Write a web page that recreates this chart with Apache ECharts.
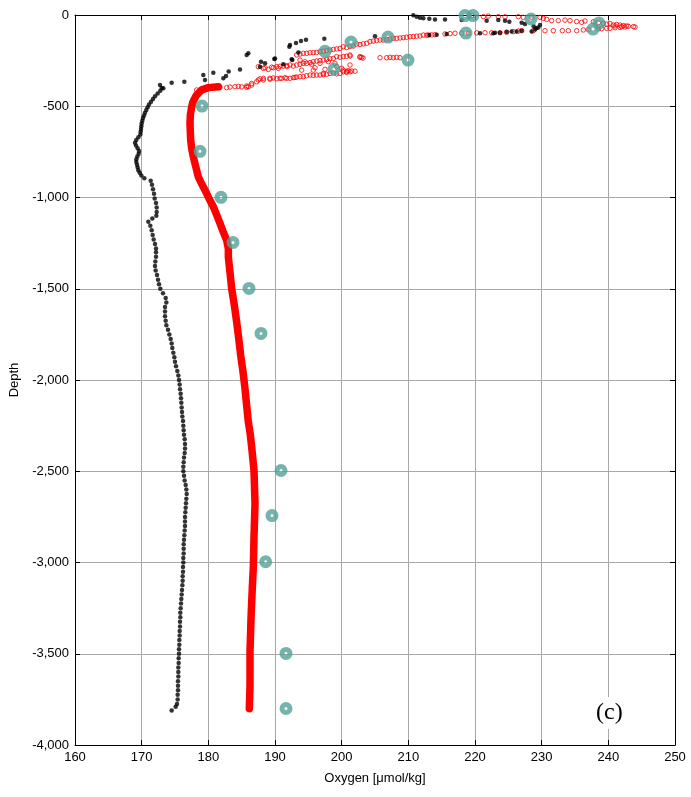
<!DOCTYPE html>
<html><head><meta charset="utf-8">
<script src="https://cdn.jsdelivr.net/npm/echarts@6/dist/echarts.min.js"></script>
<style>html,body{margin:0;padding:0;background:#fff}#c{width:691px;height:797px}</style>
</head><body><div id="c"></div>
<script>
// x ticks / y ticks
const xTicks = [160,170,180,190,200,210,220,230,240,250];
const yTicks = [0,-500,-1000,-1500,-2000,-2500,-3000,-3500,-4000];

// Black profile: upper (near-surface) scattered dots [oxygen, depth]
const blackUpper = [
[210.75,-2],[211.25,-9],[211.75,-15],[212.25,-18],[213.15,-20],[214.0,-24],[215.5,-24],[218.0,-27],[221.75,-31],[223.5,-27],[224.5,-31],[225.15,-37],[227.0,-42],[227.5,-49],[229.75,-55],[228.8,-62],[229.5,-68],[229.2,-73],[229.0,-79],[228.5,-91],[227.0,-86],[226.25,-91],[225.5,-91],[224.75,-93],[223.75,-97],[223.0,-97],[222.75,-100],[220.75,-100],[215.75,-104],[214.25,-108],[213.15,-110],[205.0,-117],[197.4,-130],[194.65,-135],[193.9,-143],[193.15,-153],[192.25,-164],[192.15,-174],[193.5,-205],[186.0,-210],[185.75,-219],[192.6,-247],[192.5,-243],[190.0,-238],[189.9,-241],[187.9,-256],[188.5,-265],[191.25,-270],[187.75,-283],[184.75,-298],[183.05,-309],[180.75,-316],[179.25,-329],[182.65,-334],[182.25,-347],[179.5,-356],[176.4,-366],[174.5,-371],[172.75,-384],[173.25,-402]
];
// Black profile: deep dots [oxygen, depth]
const blackDeep = [
[173.0,-400],[172.8,-415],[172.4,-430],[172.0,-445],[171.7,-460],[171.4,-475],[171.1,-490],[170.9,-505],[170.7,-520],[170.5,-535],[170.35,-550],[170.2,-565],[170.1,-580],[170.0,-595],[169.95,-610],[169.9,-625],[169.85,-640],[169.8,-655],[169.5,-670],[169.2,-685],[169.0,-700],[169.15,-715],[169.4,-730],[169.6,-745],[169.55,-760],[169.35,-775],[169.2,-790],[169.2,-805],[169.3,-820],[169.4,-835],[169.5,-850],[169.7,-865],[169.95,-880],[170.4,-895],[171.35,-908],[171.55,-930],[171.7,-955],[171.85,-980],[171.95,-1005],[172.15,-1030],[172.25,-1055],[172.25,-1080],[172.2,-1100],[171.6,-1115],[171.0,-1133],[171.3,-1155],[171.5,-1180],[171.65,-1205],[171.8,-1230],[172.0,-1255],[172.15,-1280],
[172.15,-1300],[172.15,-1325],[172.05,-1350],[172.0,-1375],[172.1,-1400],[172.3,-1425],[172.45,-1450],[172.6,-1475],[172.8,-1500],[173.2,-1525],[173.6,-1550],[173.7,-1575],[173.5,-1600],[173.5,-1625],[173.5,-1650],[173.6,-1675],[173.7,-1700],[173.95,-1725],[174.15,-1750],[174.35,-1775],[174.5,-1800],[174.6,-1825],[174.75,-1850],[174.9,-1875],[175.0,-1900],[175.15,-1925],[175.35,-1950],[175.5,-1975],[175.6,-2000],[175.7,-2025],[175.75,-2050],[175.85,-2075],[175.9,-2100],[175.95,-2125],[176.0,-2150],[176.05,-2175],[176.1,-2200],[176.2,-2225],[176.25,-2250],[176.3,-2275],[176.35,-2300],[176.45,-2325],[176.5,-2350],[176.5,-2375],[176.45,-2400],[176.35,-2425],[176.3,-2450],[176.25,-2475],[176.25,-2500],[176.35,-2525],[176.45,-2550],[176.6,-2575],[176.7,-2600],[176.75,-2625],[176.7,-2650],[176.65,-2675],[176.6,-2700],[176.55,-2725],[176.5,-2750],[176.5,-2775],[176.5,-2800],[176.45,-2825],[176.4,-2850],[176.35,-2875],[176.3,-2900],[176.3,-2925],[176.3,-2950],[176.25,-2975],[176.25,-3000],[176.2,-3025],[176.2,-3050],[176.15,-3075],[176.15,-3100],[176.1,-3125],[176.05,-3150],[176.0,-3175],[175.95,-3200],[175.9,-3225],[175.85,-3250],[175.8,-3275],[175.8,-3300],[175.75,-3325],[175.75,-3350],[175.7,-3375],[175.7,-3400],[175.65,-3425],[175.65,-3450],[175.6,-3475],[175.6,-3500],[175.55,-3525],[175.55,-3550],[175.5,-3575],[175.5,-3600],[175.5,-3625],[175.45,-3650],[175.45,-3675],[175.45,-3700],[175.4,-3725],[175.4,-3750],[175.3,-3775],[175.1,-3790],[174.5,-3811]
];
// Red profile: near-surface open circles [oxygen, depth]
const redUpper = [
[178.25,-411],[180.25,-396],[181.5,-396],[182.75,-398],[184.0,-393],[185.75,-396],[186.5,-384],[187.5,-356],[188.25,-347],[189.25,-347],[191.0,-347],[192.25,-347],[193.75,-338],[195.25,-329],[196.75,-329],[198.25,-320],[200.25,-311],[201.5,-307],
[178.75,-420],[179.75,-402],[180.75,-393],[181.75,-396],[184.5,-391],[185.75,-389],[186.5,-375],[187.25,-366],[188.25,-356],[189.25,-352],[190.75,-347],[191.75,-347],[193.0,-342],[194.25,-338],[196.25,-329],[197.75,-325],[199.75,-320],[200.75,-314],[201.25,-311],
[183.25,-395],[185.0,-394],[186.0,-392],[179.5,-400],
[187.75,-350],[189.75,-345],[190.25,-349],[191.5,-344],[192.75,-343],[193.25,-340],[194.75,-333],[195.75,-331],[197.25,-327],[198.75,-318],[199.25,-322],[200.75,-309],[201.0,-305],[202.0,-308],
[188.25,-292],[189.0,-298],[189.75,-289],[190.25,-283],[191.25,-280],[192.25,-274],[192.75,-280],[193.25,-274],[194.25,-265],[194.75,-265],[195.75,-256],[197.25,-247],[198.75,-238],[199.25,-228],[200.25,-228],[201.25,-225],[201.25,-219],[202.75,-232],[202.75,-228],
[189.5,-286],[190.75,-281],[191.75,-277],[193.75,-270],[195.25,-261],[196.25,-252],[196.75,-250],[197.75,-244],[198.25,-240],[199.75,-232],[200.75,-226],
[193.75,-247],[195.75,-302],[194.0,-302],[197.25,-320],[199.25,-283],[201.25,-274],[200.25,-302],[187.5,-283],[188.5,-289],[190.5,-292],[191.8,-283],[194.5,-256],[195.5,-270],[196.0,-289],[196.75,-265],[198.0,-256],[197.5,-298],[199.0,-265],[200.0,-292],[203.2,-236],
[193.25,-219],[194.25,-210],[194.75,-210],[195.25,-207],[196.25,-205],[196.75,-201],[198.25,-192],[199.75,-183],[200.25,-174],[201.75,-170],[202.25,-159],[203.75,-155],[204.25,-146],[205.75,-137],[206.25,-137],[207.75,-128],[208.25,-128],[209.75,-122],[210.25,-119],[211.75,-115],[212.25,-110],[213.0,-110],
[193.75,-214],[195.75,-206],[197.25,-198],[197.75,-195],[198.75,-189],[199.25,-186],[200.75,-178],[201.25,-172],[202.75,-162],[203.25,-158],[204.75,-143],[205.25,-140],[206.75,-134],[207.25,-131],[208.75,-126],[209.25,-124],[210.75,-118],[211.25,-116],[212.75,-111],[213.5,-109],
[203.0,-232],[205.75,-234],[206.75,-234],[207.25,-232],[207.75,-234],[208.25,-232],[208.75,-234],
[214.0,-108],[215.5,-104],[217.0,-100],[219.0,-100],[221.5,-97],[223.75,-97],[225.75,-91],[227.0,-86],[228.75,-86],[230.5,-86],[233.1,-86],[235.25,-86],[236.25,-82],[239.75,-73],[240.25,-73],[241.75,-68],
[216.25,-102],[218.0,-100],[220.25,-98],[222.5,-97],[224.75,-94],[226.5,-88],[231.75,-86],[234.0,-86],[237.0,-80],[238.5,-76],[239.0,-75],[241.0,-70],[242.5,-66],[243.0,-62],[244.0,-66],
[219.5,-3],[221.25,-9],[223.5,-9],[226.5,-9],[227.25,-13],[229.75,-13],[230.25,-18],[230.75,-24],[231.5,-31],[232.5,-31],[234.25,-31],[236.0,-40],[236.5,-33],[237.75,-37],[239.25,-46],[240.25,-46],[240.75,-55],[241.75,-55],[242.75,-60],[243.75,-64],[241.0,-60],[242.0,-64],
[238.5,-42],[239.75,-50],[241.25,-52],[242.25,-58],[233.5,-28],[235.25,-36],[224.5,-10],[228.5,-12],[222.0,-6]
];
// Red profile: deep dense band, centre [oxygen, depth]
const redDeep = [
[181.5,-393],[180.0,-398],[179.0,-410],[178.2,-440],[177.7,-475],[177.5,-503],[177.3,-550],[177.25,-594],[177.3,-640],[177.35,-685],[177.5,-730],[177.75,-777],[178.1,-830],[178.5,-887],[179.0,-925],[179.5,-960],[180.1,-1005],[180.75,-1051],[181.25,-1095],[181.75,-1142],[182.25,-1190],[182.75,-1234],[183.0,-1280],[183.0,-1325],[183.25,-1410],[183.5,-1499],[183.9,-1590],[184.25,-1682],[184.55,-1770],[184.85,-1864],[185.2,-1955],[185.5,-2047],[185.75,-2140],[186.0,-2229],[186.3,-2300],[186.5,-2367],[186.85,-2495],[187.0,-2677],[186.85,-2860],[186.75,-3025],[186.6,-3134],[186.4,-3308],[186.25,-3491],[186.25,-3674],[186.15,-3801]
];
// Teal reference samples [oxygen, depth]
const tealPoints = [
[218.5,-3],[219.7,-3],[228.4,-22],[238.6,-44],[237.7,-77],[218.65,-99],[206.95,-121],[201.4,-148],[197.5,-199],[209.95,-247],[198.85,-296],[179.05,-499],[178.75,-747],[181.9,-999],[183.7,-1246],[186.1,-1498],[187.9,-1745],[190.9,-2496],[189.55,-2743],[188.6,-2996],[191.65,-3498],[191.65,-3800]
];

const FONT = 'Liberation Sans';
const chart = echarts.init(document.getElementById('c'), null, {renderer:'canvas'});
const gridCol = '#a8a8a8';
const baseAxis = {
  axisLine:{show:true, onZero:false, lineStyle:{color:'#000', width:1}},
  axisTick:{show:true, inside:true, length:5, lineStyle:{color:'#000'}},
  axisLabel:{color:'#000', fontFamily:FONT, fontSize:13},
};
chart.setOption({
  animation:false,
  backgroundColor:'#fff',
  grid:{left:75, top:15, width:600, height:730, containLabel:false},
  xAxis:[
    Object.assign({}, baseAxis, {type:'value', min:xTicks[0], max:xTicks[xTicks.length-1], interval:10, position:'bottom',
      axisLabel:{color:'#000', fontFamily:FONT, fontSize:13, margin:6},
      splitLine:{show:true, lineStyle:{color:gridCol, width:1}},
      name:'Oxygen [\u03bcmol/kg]', nameLocation:'middle', nameGap:27,
      nameTextStyle:{color:'#000', fontFamily:FONT, fontSize:13}}),
    Object.assign({}, baseAxis, {type:'value', min:xTicks[0], max:xTicks[xTicks.length-1], interval:10, position:'top',
      axisLabel:{show:false}, splitLine:{show:false}})
  ],
  yAxis:[
    Object.assign({}, baseAxis, {type:'value', min:yTicks[yTicks.length-1], max:yTicks[0], interval:500, position:'left',
      axisLabel:{color:'#000', fontFamily:FONT, fontSize:13, margin:6},
      splitLine:{show:true, lineStyle:{color:gridCol, width:1}},
      name:'Depth', nameLocation:'middle', nameGap:53, nameRotate:90,
      nameTextStyle:{color:'#000', fontFamily:FONT, fontSize:13}}),
    Object.assign({}, baseAxis, {type:'value', min:yTicks[yTicks.length-1], max:yTicks[0], interval:500, position:'right',
      axisLabel:{show:false}, splitLine:{show:false}})
  ],
  series:[
    {type:'line', data:redDeep, xAxisIndex:0, yAxisIndex:0, showSymbol:false, smooth:false,
     lineStyle:{color:'#ff0000', width:7.5, join:'round', cap:'round'}, z:2},
    {type:'scatter', data:redUpper, symbol:'circle', symbolSize:4.5,
     itemStyle:{color:'rgba(255,255,255,0)', borderColor:'#ff0000', borderWidth:1}, z:3},
    {type:'scatter', data:blackUpper.concat(blackDeep), symbol:'circle', symbolSize:4.5,
     itemStyle:{color:'#000'}, z:4},
    {type:'scatter', data:tealPoints, symbol:'circle', symbolSize:8,
     itemStyle:{color:'rgba(255,255,255,0)', borderColor:'#52a197', borderWidth:5}, z:5}
  ],
  graphic:[{type:'text', left:593, top:697, z:10,
    style:{text:'(c)', font:'24px "Liberation Serif"', fill:'#000', backgroundColor:'#fff', padding:[4,3]}}]
});
</script></body></html>
